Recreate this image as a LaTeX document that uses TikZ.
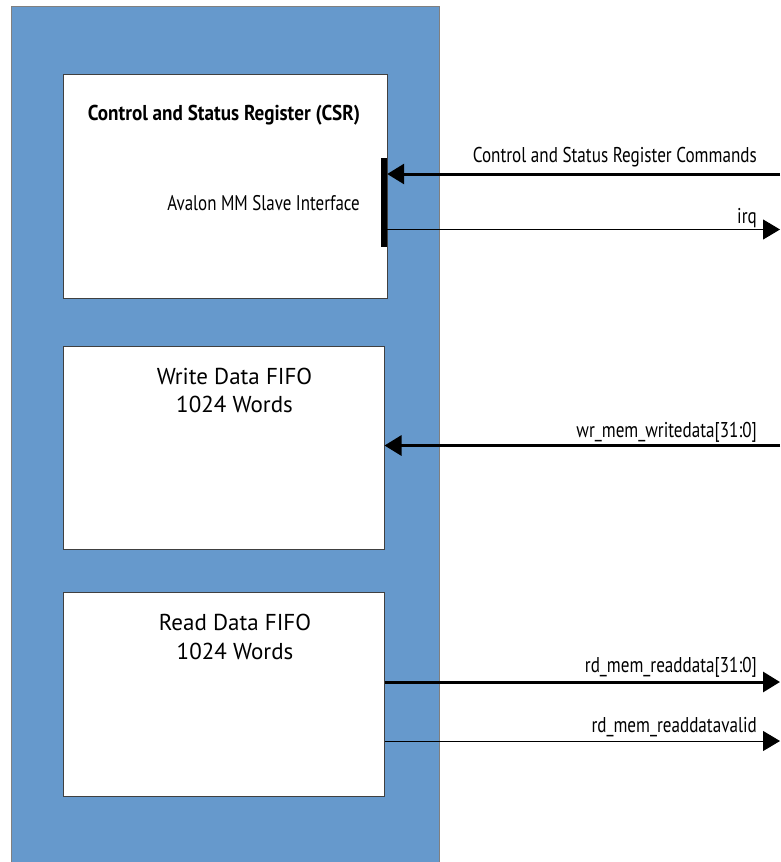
\documentclass[tikz,border=0pt]{standalone}
\usepackage{fontspec}
\setmainfont{PT Sans}
\newfontfamily\condfont[FakeStretch=0.8]{PT Sans}
\newfontfamily\titlefont[FakeStretch=0.89]{PT Sans}
\usetikzlibrary{arrows.meta}
\definecolor{blockblue}{HTML}{6699CC}
\definecolor{edgegray}{HTML}{404040}
\tikzset{
  outerblock/.style={fill=blockblue, draw=gray, line width=0.8pt},
  innerbox/.style={fill=white, draw=edgegray, line width=1pt},
  sig/.style={font=\condfont\fontsize{21.4}{25}\selectfont, inner sep=0pt, anchor=base east},
  fifotext/.style={font=\fontsize{23}{29}\selectfont, inner sep=0pt, anchor=base, align=center},
  bus/.style={line width=3pt},
  wire/.style={line width=1pt},
  tip/.style={-{Triangle[length=17pt,width=20pt]}},
}
\begin{document}
\begin{tikzpicture}[x=1pt,y=-1pt]
\useasboundingbox (0,0) rectangle (780,862);
\clip (0,0) rectangle (780,862);
% outer block
\path[outerblock] (11,6) rectangle (439,875);
% CSR box
\node[innerbox, minimum width=324pt, minimum height=224pt, inner sep=0pt] (csr) at (225,186) {};
\node[font=\titlefont\bfseries\fontsize{21.5}{25}\selectfont, inner sep=0pt, anchor=base] (csrtitle) at (224,120) {Control and Status Register (CSR)};
\node[font=\condfont\fontsize{21.2}{25}\selectfont, inner sep=0pt, anchor=base east] (avalon) at (360,210) {Avalon MM Slave Interface};
\node[fill=black, inner sep=0pt, minimum width=6pt, minimum height=89pt] (bar) at (384,202.5) {};
% Write FIFO
\node[innerbox, minimum width=321pt, minimum height=203pt, inner sep=0pt] (wfifo) at (223.5,447.5) {};
\node[fifotext] (wtext) at (234.5,384) {Write Data FIFO};
\node[fifotext] (wtext2) at (234.5,412) {1024 Words};
% Read FIFO
\node[innerbox, minimum width=321pt, minimum height=204pt, inner sep=0pt] (rfifo) at (223.5,694) {};
\node[fifotext] (rtext) at (235,630) {Read Data FIFO};
\node[fifotext] (rtext2) at (235,659) {1024 Words};
% right-side endpoints
\coordinate (cmdR) at (780,174);
\coordinate (irqR) at (780,229.5);
\coordinate (wrR) at (780,445.5);
\coordinate (rdR) at (780,682);
\coordinate (rdvR) at (780,741);
% connectors
\draw[bus, tip] (cmdR) -- (bar.east |- cmdR);
\draw[wire, tip] (bar.east |- irqR) -- (irqR);
\draw[bus, tip] (wrR) -- (wfifo.east |- wrR);
\draw[bus, tip] (rfifo.east |- rdR) -- (rdR);
\draw[wire, tip] (rfifo.east |- rdvR) -- (rdvR);
% labels
\node[sig] (cmdlab) at (757,162) {Control and Status Register Commands};
\node[sig] (irqlab) at (757,223) {irq};
\node[sig] (wrlab) at (757,437) {wr\_mem\_writedata[31:0]};
\node[sig] (rdlab) at (757,672) {rd\_mem\_readdata[31:0]};
\node[sig] (rdvlab) at (757,732) {rd\_mem\_readdatavalid};
\end{tikzpicture}
\end{document}
